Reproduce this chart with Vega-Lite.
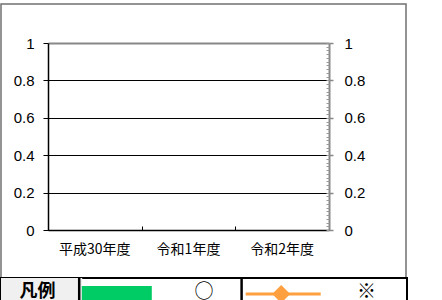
{
  "$schema": "https://vega.github.io/schema/vega-lite/v6.json",
  "background": "white",
  "padding": {"top": 3, "left": 0, "right": 0, "bottom": 0},
  "spacing": 0,
  "bounds": "flush",
  "config": {"axis": {"labelColor": "#000000", "title": null}},
  "vconcat": [
    {
      "width": 405,
      "height": 274,
      "view": {"stroke": "#707070", "strokeWidth": 1.5},
      "data": {"values": [
        {"year": "平成30年度", "value": null},
        {"year": "令和1年度", "value": null},
        {"year": "令和2年度", "value": null}
      ]},
      "layer": [
        {
          "mark": {"type": "point", "opacity": 0},
          "encoding": {
            "x": {"field": "year", "type": "nominal", "sort": null,
              "scale": {"domain": ["平成30年度", "令和1年度", "令和2年度"], "range": [47, 328], "paddingInner": 0, "paddingOuter": 0},
              "axis": {"orient": "bottom", "offset": -48, "domainColor": "#000000", "domainWidth": 1.5, "ticks": false, "tickSize": 0, "labelPadding": 12, "labelFont": "Noto Sans CJK JP", "labelFontSize": 14, "labelAngle": 0, "grid": false, "title": null}},
            "y": {"field": "value", "type": "quantitative",
              "scale": {"domain": [0, 1], "range": [226, 39], "nice": false, "zero": false},
              "axis": {"orient": "left", "offset": -47, "values": [0, 0.2, 0.4, 0.6, 0.8, 1], "format": "~g", "domainColor": "#000000", "domainWidth": 1.5, "tickColor": "#000000", "tickSize": 5, "tickWidth": 1, "labelFont": "Liberation Sans", "labelFontSize": 15, "labelPadding": 9, "grid": true,
                "gridColor": {"condition": {"test": "datum.value === 1", "value": "#888888"}, "value": "#000000"},
                "gridWidth": {"condition": {"test": "datum.value === 1", "value": 2}, "value": 1},
                "title": null}}
          }
        },
        {
          "mark": {"type": "point", "opacity": 0},
          "encoding": {
            "x": {"field": "year", "type": "nominal", "sort": null,
              "axis": {"orient": "bottom", "offset": -48, "domain": false, "labels": false, "ticks": true, "tickSize": -4, "tickBand": "extent", "tickColor": "#000000", "tickWidth": 1, "grid": false, "title": null}},
            "y": {"field": "value", "type": "quantitative",
              "axis": {"orient": "right", "offset": -77, "values": [0, 0.2, 0.4, 0.6, 0.8, 1], "format": "~g", "domainColor": "#888888", "domainWidth": 2, "tickColor": "#888888", "tickSize": 4, "tickWidth": 1.5, "labelFont": "Liberation Sans", "labelFontSize": 15, "labelPadding": 11, "grid": false, "title": null}}
          }
        },
        {
          "mark": {"type": "point", "opacity": 0},
          "encoding": {
            "x": {"field": "year", "type": "nominal", "sort": null, "axis": null},
            "y": {"field": "value", "type": "quantitative",
              "axis": {"orient": "right", "offset": -77, "tickCount": 50, "domain": false, "labels": false, "tickSize": -3, "tickColor": "#999999", "tickWidth": 1, "grid": false, "title": null}}
          }
        }
      ],
      "resolve": {"axis": {"x": "independent", "y": "independent"}}
    },
    {
      "width": 406,
      "height": 32,
      "view": {"stroke": "#000000", "strokeWidth": 2},
      "data": {"values": [
        {"key": "凡例", "kind": "header"},
        {"key": "swatch", "kind": "bar"},
        {"key": "○", "kind": "label"},
        {"key": "line", "kind": "line"},
        {"key": "※", "kind": "label"}
      ]},
      "encoding": {
        "x": {"field": "key", "type": "nominal", "sort": null, "axis": null,
          "scale": {"domain": ["凡例", "swatch", "○", "line", "※"], "paddingInner": 0, "paddingOuter": 0}}
      },
      "layer": [
        {
          "transform": [{"filter": "datum.kind === 'header'"}],
          "mark": {"type": "rect", "fill": "#f0f0f0"}
        },
        {
          "transform": [{"filter": "datum.kind === 'bar' || datum.kind === 'line'"}],
          "mark": {"type": "rule", "color": "#000000", "strokeWidth": 2.5, "xOffset": -3},
          "encoding": {"x": {"field": "key", "type": "nominal", "sort": null, "bandPosition": 0}}
        },
        {
          "transform": [{"filter": "datum.kind === 'bar'"}],
          "mark": {"type": "point", "shape": "M-1,-0.23L1,-0.23L1,0.23L-1,0.23Z", "size": 4900, "filled": true, "fill": "#00cc66", "strokeWidth": 0, "opacity": 1, "xOffset": -6}
        },
        {
          "transform": [{"filter": "datum.kind === 'line'"}],
          "mark": {"type": "point", "shape": "M-1,0L1,0", "size": 5625, "filled": false, "stroke": "#ffa040", "strokeWidth": 3, "opacity": 1, "xOffset": -2}
        },
        {
          "transform": [{"filter": "datum.kind === 'line'"}],
          "mark": {"type": "point", "shape": "diamond", "size": 324, "filled": true, "fill": "#ffa040", "strokeWidth": 0, "opacity": 1, "xOffset": -4}
        },
        {
          "transform": [{"filter": "datum.kind === 'header'"}],
          "mark": {"type": "text", "font": "Noto Sans CJK JP", "fontSize": 18, "fontWeight": "bold", "color": "#000000", "baseline": "middle", "xOffset": -4, "dy": -2},
          "encoding": {"text": {"field": "key"}}
        },
        {
          "transform": [{"filter": "datum.kind === 'label'"}],
          "mark": {"type": "text", "font": "Noto Sans CJK JP", "fontSize": 19, "color": "#000000", "baseline": "middle", "dy": -2},
          "encoding": {"text": {"field": "key"}}
        }
      ]
    }
  ]
}
